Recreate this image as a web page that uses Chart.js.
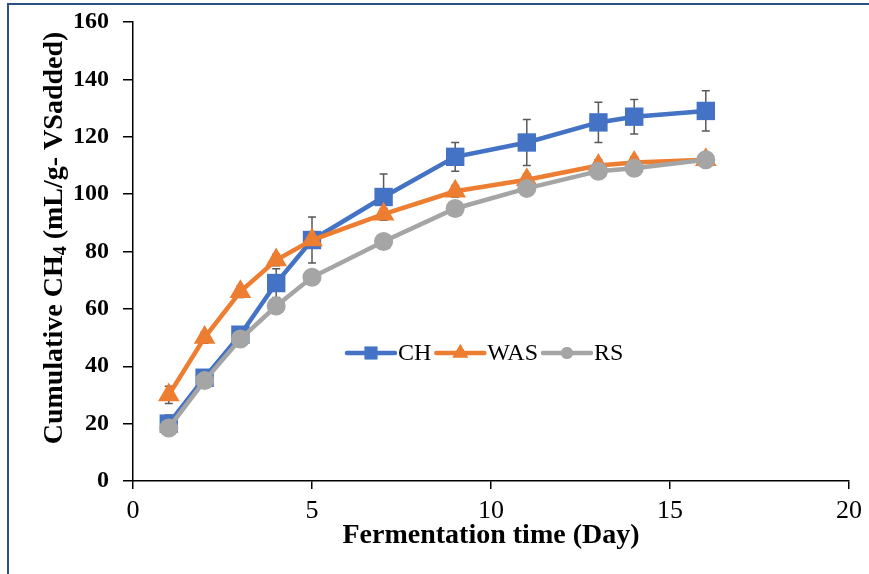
<!DOCTYPE html>
<html>
<head>
<meta charset="utf-8">
<script src="https://cdn.jsdelivr.net/npm/chart.js@4"></script>
<style>
  html, body { margin: 0; padding: 0; background: #fff; }
  #wrap { position: relative; width: 869px; height: 574px; }
  #frame { position: absolute; left: 7px; top: 3px; right: -10px; bottom: -10px;
           border-left: 2px solid #2c5185; border-top: 2px solid #2c5185; pointer-events: none; }
</style>
</head>
<body>
<div id="wrap">
  <canvas id="mainChart" width="869" height="574"></canvas>
  <div id="frame"></div>
</div>
<script>
const main = document.getElementById("mainChart");

let days = [1, 2, 3, 4, 5, 7, 9, 11, 13, 14, 16];
let chValues = [20, 36, 51, 69, 84, 99, 113, 118, 125, 127, 129];
let wasValues = [30, 50, 66, 77, 84, 93, 101, 105, 110, 111, 112];
let rsValues = [18.5, 35, 49.5, 61, 71, 83.5, 95, 102, 108, 109, 112];
let chErr = [3, 2, 2, 5, 8, 8, 5, 8, 7, 6, 7];
let wasErr = [3, 2, 2, 2, 2, 2, 2, 2, 2, 2, 2];
let rsErr = [2, 2, 2, 2, 2, 2, 2, 2, 2, 2, 2];
let yTicks = [0, 20, 40, 60, 80, 100, 120, 140, 160];
let xTicks = [0, 5, 10, 15, 20];

function pts(vals) {
    return days.map((d, i) => ({ x: d, y: vals[i] }));
}

const serif = "'Liberation Serif', 'Times New Roman', serif";

// error bars drawn under the series
const errorBars = {
    id: "errorBars",
    beforeDatasetsDraw(chart) {
        const ctx = chart.ctx;
        const xs = chart.scales.x, ys = chart.scales.y;
        ctx.save();
        ctx.strokeStyle = "#595959";
        ctx.lineWidth = 1.5;
        chart.data.datasets.forEach(ds => {
            ds.errors.forEach((e, i) => {
                const px = xs.getPixelForValue(days[i]);
                const top = ys.getPixelForValue(ds.data[i].y + e);
                const bot = ys.getPixelForValue(ds.data[i].y - e);
                ctx.beginPath();
                ctx.moveTo(px, top); ctx.lineTo(px, bot);
                ctx.moveTo(px - 4, top); ctx.lineTo(px + 4, top);
                ctx.moveTo(px - 4, bot); ctx.lineTo(px + 4, bot);
                ctx.stroke();
            });
        });
        ctx.restore();
    }
};

// y title with a real subscript 4
const yTitle = {
    id: "yTitle",
    afterDraw(chart) {
        const ctx = chart.ctx;
        const area = chart.chartArea;
        const big = "bold 28px " + serif, small = "bold 18px " + serif;
        const parts = [["Cumulative CH", big, 0], ["4", small, 6], [" (mL/g- VSadded)", big, 0]];
        ctx.save();
        let total = 0;
        parts.forEach(p => { ctx.font = p[1]; total += ctx.measureText(p[0]).width; });
        ctx.translate(55, area.top + 216);
        ctx.rotate(-Math.PI / 2);
        ctx.fillStyle = "#000";
        ctx.textBaseline = "middle";
        let x = -total / 2;
        parts.forEach(p => {
            ctx.font = p[1];
            ctx.fillText(p[0], x, p[2]);
            x += ctx.measureText(p[0]).width;
        });
        ctx.restore();
    }
};

// legend sitting inside the plot area
const innerLegend = {
    id: "innerLegend",
    afterDraw(chart) {
        const ctx = chart.ctx;
        const area = chart.chartArea;
        const y = area.top + 331;
        let x = area.left + 214;
        const marks = { CH: ["rect", 9], WAS: ["triangle", 9], RS: ["circle", 6] };
        ctx.save();
        ctx.font = "24px " + serif;
        ctx.textBaseline = "middle";
        [0, 1, 2].forEach(k => {
            const ds = chart.data.datasets[k];
            ctx.strokeStyle = ds.borderColor;
            ctx.lineWidth = 4.5;
            ctx.lineCap = "round";
            ctx.beginPath();
            ctx.moveTo(x, y); ctx.lineTo(x + 48, y);
            ctx.stroke();
            ctx.fillStyle = ds.borderColor;
            Chart.helpers.drawPoint(ctx, {
                pointStyle: marks[ds.label][0], radius: marks[ds.label][1],
                borderWidth: 0, rotation: 0
            }, x + 24, y);
            ctx.fill();
            ctx.fillStyle = "#000";
            ctx.fillText(ds.label, x + 51, y + 1);
            x += 51 + ctx.measureText(ds.label).width + 5;
        });
        ctx.restore();
    }
};

new Chart(main, {
    type: "line",
    data: {
        datasets: [
            { label: "CH", data: pts(chValues), errors: chErr, borderColor: "#4472c4", backgroundColor: "#4472c4",
              pointStyle: "rect", pointRadius: 13, order: 3 },
            { label: "WAS", data: pts(wasValues), errors: wasErr, borderColor: "#ed7d31", backgroundColor: "#ed7d31",
              pointStyle: "triangle", pointRadius: 12.5, order: 2 },
            { label: "RS", data: pts(rsValues), errors: rsErr, borderColor: "#a5a5a5", backgroundColor: "#a5a5a5",
              pointStyle: "circle", pointRadius: 9.5, order: 1 }
        ]
    },
    options: {
        responsive: false,
        animation: false,
        devicePixelRatio: 1,
        elements: {
            line: { borderWidth: 4.5, tension: 0 },
            point: { borderWidth: 0, hoverRadius: 10 }
        },
        layout: { padding: { left: 0, top: 22, right: 20, bottom: 11 } },
        plugins: {
            legend: { display: false },
            tooltip: { enabled: false }
        },
        scales: {
            x: {
                type: "linear",
                min: 0, max: 20,
                afterBuildTicks: s => { s.ticks = xTicks.map(v => ({ value: v })); },
                afterFit: s => { s.height = 82; s.paddingLeft = 0; s.paddingRight = 0; },
                grid: { drawOnChartArea: false, tickLength: 8, color: "#000", lineWidth: 1.5 },
                border: { color: "#000", width: 1.5 },
                ticks: { color: "#000", font: { family: serif, size: 26 }, padding: 7 },
                title: { display: true, text: "Fermentation time (Day)", color: "#000",
                         font: { family: serif, size: 28, weight: "bold" }, padding: { top: 0, bottom: 10 } }
            },
            y: {
                min: 0, max: 160,
                afterBuildTicks: s => { s.ticks = yTicks.map(v => ({ value: v })); },
                afterFit: s => { s.width = 133; s.paddingTop = 0; s.paddingBottom = 0; },
                grid: { drawOnChartArea: false, tickLength: 10, color: "#000", lineWidth: 1.5 },
                border: { color: "#000", width: 1.5 },
                ticks: { color: "#000", font: { family: serif, size: 24, weight: "bold" }, padding: 14 }
            }
        }
    },
    plugins: [errorBars, yTitle, innerLegend]
});
</script>
</body>
</html>
